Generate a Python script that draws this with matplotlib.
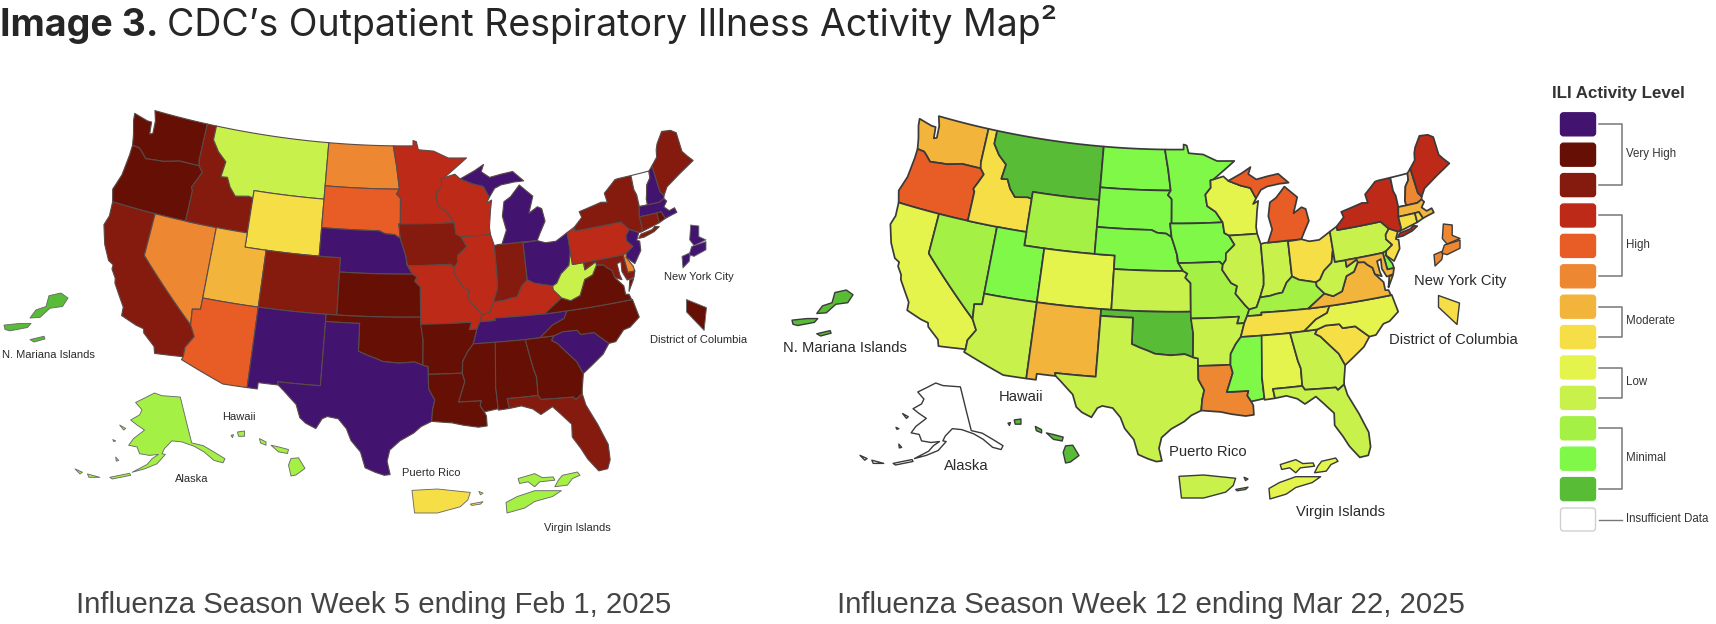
import numpy as np
import matplotlib
matplotlib.use("Agg")
import matplotlib.pyplot as plt
from matplotlib.collections import PolyCollection
from matplotlib.patches import FancyBboxPatch

W, H = 1716, 624

# ---------- data ----------
level_colors = ['#42136f', '#660f05', '#851a0e', '#bd2a17', '#e85c25', '#ee8731', '#f3b43b',
                '#f6df46', '#e5f44c', '#c8f24b', '#a4f045', '#80f848', '#58bc36', '#ffffff']
state_names = ['WA','OR','CA','NV','ID','MT','WY','UT','AZ','CO','NM','ND','SD','NE','KS','OK','TX',
               'MN','IA','MO','AR','LA','WI','IL','IN','MI','OH','KY','TN','MS','AL','GA','FL','SC',
               'NC','VA','WV','PA','NY','VT','NH','ME','MA','CT','RI','NJ','DE','MD']
week5_levels  = [1,1,2,5,2,9,7,6,4,2,0,5,4,0,1,1,0,
                 3,2,3,1,1,3,3,2,0,0,3,0,1,1,1,2,0,
                 1,1,9,3,2,13,0,2,0,2,1,0,5,2]
week12_levels = [6,4,8,10,7,12,10,11,9,8,6,11,11,11,9,12,9,
                 11,11,10,9,5,8,9,9,4,7,10,7,11,8,9,9,7,
                 8,6,9,9,3,13,5,3,6,7,7,7,11,6]
inset_names = ['NYC','DC','PR','VI','AK','HI','MP']
week5_inset_levels  = [0,1,7,10,10,10,12]
week12_inset_levels = [5,7,9,8,13,12,12]
panel_titles = ['Influenza Season Week 5 ending Feb 1, 2025', 'Influenza Season Week 12 ending Mar 22, 2025']
legend_groups = [('Very High',0,2),('High',3,5),('Moderate',6,7),('Low',8,9),('Minimal',10,12),('Insufficient Data',13,13)]

# state outlines as lon/lat
S = {
'WA':[[(-124.7,48.4),(-123.2,48.15),(-122.75,48.15),(-122.6,47.3),(-122.3,47.4),(-122.4,48.3),(-122.75,49),(-117.03,49),(-117.04,46.42),(-116.92,45.99),(-118.98,46),(-119.3,45.93),(-120.5,45.7),(-121.2,45.65),(-122.3,45.55),(-122.8,45.9),(-123.2,46.15),(-123.95,46.2),(-124.1,46.7),(-124.2,47),(-124.6,47.9)]],
'OR':[[(-123.95,46.2),(-123.2,46.15),(-122.8,45.9),(-122.3,45.55),(-121.2,45.65),(-120.5,45.7),(-119.3,45.93),(-118.98,46),(-116.92,45.99),(-116.46,45.6),(-116.85,44.95),(-117.2,44.4),(-117.03,44.2),(-117.03,42),(-124.2,42),(-124.55,42.85),(-124.1,44),(-123.95,45.5)]],
'CA':[[(-124.2,42),(-120,42),(-120,39),(-114.63,35),(-114.13,34.25),(-114.72,33.4),(-114.72,32.72),(-117.12,32.53),(-117.3,33),(-118.4,33.75),(-118.5,34.03),(-119.2,34.15),(-120.6,34.55),(-120.65,35.15),(-121.9,36.6),(-122,36.95),(-122.5,37.5),(-122.5,37.8),(-123,38),(-123.75,39),(-124.35,40.3),(-124.1,41)]],
'NV':[[(-120,42),(-114.04,42),(-114.04,36.2),(-114.75,36.1),(-114.63,35),(-120,39)]],
'ID':[[(-117.03,42),(-111.05,42),(-111.05,44.48),(-111.5,44.55),(-112.8,44.4),(-113.45,44.95),(-113.9,45.6),(-114.55,45.55),(-114.35,46.65),(-115.3,47.25),(-116.05,48),(-116.05,49),(-117.03,49),(-117.04,46.42),(-116.92,45.99),(-116.46,45.6),(-116.85,44.95),(-117.2,44.4),(-117.03,44.2)]],
'MT':[[(-116.05,49),(-104.05,49),(-104.05,45),(-111.05,45),(-111.05,44.48),(-111.5,44.55),(-112.8,44.4),(-113.45,44.95),(-113.9,45.6),(-114.55,45.55),(-114.35,46.65),(-115.3,47.25),(-116.05,48)]],
'WY':[[(-111.05,45),(-104.05,45),(-104.05,41),(-111.05,41)]],
'UT':[[(-114.04,42),(-111.05,42),(-111.05,41),(-109.05,41),(-109.05,37),(-114.04,37)]],
'CO':[[(-109.05,41),(-102.05,41),(-102.05,37),(-109.05,37)]],
'AZ':[[(-114.63,35),(-114.75,36.1),(-114.04,36.2),(-114.04,37),(-109.05,37),(-109.05,31.33),(-111.07,31.33),(-114.81,32.5),(-114.72,32.72),(-114.72,33.4),(-114.13,34.25)]],
'NM':[[(-109.05,37),(-103,37),(-103.04,32),(-106.62,32),(-106.53,31.78),(-108.2,31.78),(-108.2,31.33),(-109.05,31.33)]],
'ND':[[(-104.05,49),(-97.23,49),(-96.85,47.5),(-96.56,45.94),(-104.05,45.94)]],
'SD':[[(-104.05,45.94),(-96.56,45.94),(-96.85,45.6),(-96.45,45.3),(-96.45,43.5),(-96.6,43.5),(-96.45,42.49),(-97,42.75),(-97.9,42.8),(-98.5,43),(-104.05,43)]],
'NE':[[(-104.05,43),(-98.5,43),(-97.9,42.8),(-97,42.75),(-96.45,42.49),(-96.1,41.7),(-95.9,41.2),(-95.85,40.7),(-95.31,40),(-102.05,40),(-102.05,41),(-104.05,41)]],
'KS':[[(-102.05,40),(-95.31,40),(-94.9,39.8),(-95.1,39.5),(-94.6,39.1),(-94.62,37),(-102.05,37)]],
'OK':[[(-103,37),(-94.62,37),(-94.43,35.4),(-94.48,33.64),(-95.2,33.88),(-96.5,33.8),(-97.2,33.85),(-97.9,33.9),(-98.5,34.1),(-99.2,34.3),(-100,34.56),(-100,36.5),(-103,36.5)]],
'TX':[[(-106.62,32),(-103.04,32),(-103,36.5),(-100,36.5),(-100,34.56),(-99.2,34.3),(-98.5,34.1),(-97.9,33.9),(-97.2,33.85),(-96.5,33.8),(-95.2,33.88),(-94.48,33.64),(-94.04,33.55),(-94.04,32),(-93.55,31.2),(-93.75,30.5),(-93.85,29.7),(-94.7,29.35),(-95.3,28.9),(-96.4,28.35),(-97.2,27.7),(-97.4,26.9),(-97.15,25.96),(-97.6,25.9),(-98.3,26.1),(-99.1,26.4),(-99.5,27.5),(-100.3,28.3),(-100.7,29.1),(-101.4,29.77),(-102.3,29.88),(-102.7,29.7),(-103.15,28.98),(-104,29.3),(-104.5,29.65),(-104.9,30.55),(-106,31.4),(-106.53,31.78)]],
'MN':[[(-97.23,49),(-95.15,49),(-95.15,49.38),(-94.8,49.3),(-94.6,48.72),(-93,48.6),(-91.5,48.07),(-89.6,48),(-92,46.7),(-92.3,46.65),(-92.3,46.1),(-92.9,45.6),(-92.75,44.75),(-91.9,44.3),(-91.22,43.5),(-96.45,43.5),(-96.45,45.3),(-96.85,45.6),(-96.56,45.94),(-96.85,47.5)]],
'IA':[[(-96.6,43.5),(-91.22,43.5),(-91.1,42.7),(-90.65,42.5),(-90.15,41.8),(-91.05,41.2),(-91.1,40.7),(-91.42,40.38),(-91.73,40.61),(-95.77,40.58),(-95.9,41.2),(-96.1,41.7),(-96.45,42.49)]],
'MO':[[(-95.77,40.58),(-91.73,40.61),(-91.42,40.38),(-91.5,40),(-90.7,39),(-90.15,38.75),(-90.35,38.2),(-89.5,37.3),(-89.15,36.98),(-89.4,36.5),(-89.7,36),(-90.37,36),(-90.15,36.5),(-94.62,36.5),(-94.62,37),(-94.6,39.1),(-95.1,39.5),(-94.9,39.8),(-95.31,40)]],
'AR':[[(-94.62,36.5),(-90.15,36.5),(-90.37,36),(-89.7,36),(-90.1,35),(-90.6,34.5),(-91.1,33.8),(-91.17,33),(-94.04,33),(-94.04,33.55),(-94.48,33.64),(-94.43,35.4)]],
'LA':[[(-94.04,33),(-91.17,33),(-91,32.4),(-91.6,31),(-89.73,31),(-89.85,30.65),(-89.55,30.2),(-89.4,29.9),(-89.4,29.2),(-90.1,29.15),(-91.3,29.35),(-92.2,29.55),(-93.85,29.7),(-93.75,30.5),(-93.55,31.2),(-94.04,32)]],
'WI':[[(-92,46.7),(-90.9,46.9),(-90.4,46.55),(-89.1,46.13),(-88.1,45.9),(-87.6,45.1),(-87.95,44.7),(-87.4,44.9),(-87.6,44.2),(-87.85,43),(-87.8,42.49),(-90.65,42.5),(-91.1,42.7),(-91.22,43.5),(-91.9,44.3),(-92.75,44.75),(-92.9,45.6),(-92.3,46.1),(-92.3,46.65)]],
'IL':[[(-90.65,42.5),(-87.8,42.49),(-87.53,41.7),(-87.53,39.35),(-87.6,38.7),(-88.05,37.8),(-88.45,37.1),(-89.15,36.98),(-89.5,37.3),(-90.35,38.2),(-90.15,38.75),(-90.7,39),(-91.5,40),(-91.42,40.38),(-91.1,40.7),(-91.05,41.2),(-90.15,41.8)]],
'IN':[[(-87.53,41.7),(-87.2,41.76),(-84.8,41.76),(-84.82,39.1),(-85.4,38.7),(-85.9,38),(-86.5,37.95),(-87.1,37.85),(-88.05,37.8),(-87.6,38.7),(-87.53,39.35)]],
'MI':[[(-86.8,41.76),(-84.8,41.76),(-83.45,41.73),(-83.1,42.2),(-82.45,43),(-82.6,43.9),(-83,44.07),(-83.9,43.7),(-83.3,44.85),(-84.5,45.75),(-85.5,45),(-86.2,44.7),(-86.5,43.7),(-86.25,42.7)],
      [(-90.4,46.55),(-89.1,46.13),(-88.1,45.9),(-87.6,45.1),(-87,45.7),(-86.3,45.9),(-85,46),(-84,46),(-84.6,46.45),(-85,46.75),(-86.2,46.65),(-87.4,46.5),(-88.2,46.95),(-87.9,47.45),(-88.9,47.05),(-89.8,46.75)]],
'OH':[[(-84.8,41.7),(-83.45,41.73),(-82.7,41.5),(-81.7,41.5),(-80.52,41.98),(-80.52,40.64),(-80.85,39.7),(-81.7,39.2),(-82.2,38.6),(-82.6,38.45),(-83.3,38.6),(-84.2,38.8),(-84.82,39.1)]],
'KY':[[(-89.15,36.98),(-89.4,36.5),(-88.05,36.5),(-88.05,36.68),(-83.68,36.6),(-81.97,37.54),(-82.6,38.17),(-82.6,38.45),(-83.3,38.6),(-84.2,38.8),(-84.82,39.1),(-85.4,38.7),(-85.9,38),(-86.5,37.95),(-87.1,37.85),(-88.05,37.8),(-88.45,37.1)]],
'TN':[[(-90.1,35),(-89.7,36),(-89.4,36.5),(-88.05,36.5),(-88.05,36.68),(-83.68,36.6),(-81.68,36.59),(-82,36.1),(-83.1,35.75),(-84.3,35),(-85.6,34.98)]],
'MS':[[(-90.1,35),(-88.2,35),(-88.1,34.9),(-88.47,31.9),(-88.4,30.35),(-89.55,30.2),(-89.85,30.65),(-89.73,31),(-91.6,31),(-91,32.4),(-91.17,33),(-91.1,33.8),(-90.6,34.5)]],
'AL':[[(-88.2,35),(-85.6,34.98),(-85.18,32.87),(-85,32.3),(-85.05,31),(-87.6,31),(-87.5,30.3),(-88.4,30.25),(-88.47,31.9)]],
'GA':[[(-85.6,34.98),(-83.1,35),(-83.35,34.7),(-82.9,34.45),(-81.5,33),(-81.1,32.1),(-81.4,31),(-81.45,30.7),(-82.05,30.36),(-82.2,30.57),(-84.86,30.7),(-85.05,31),(-85,32.3),(-85.18,32.87)]],
'FL':[[(-87.6,31),(-85.05,31),(-84.86,30.7),(-82.2,30.57),(-82.05,30.36),(-81.45,30.7),(-81.3,29.9),(-80.6,28.4),(-80.05,26.9),(-80.1,25.8),(-80.4,25.2),(-81.1,25.15),(-81.8,26.1),(-82.2,26.9),(-82.75,27.8),(-82.65,28.7),(-83.4,29.5),(-84,30.1),(-85,29.65),(-85.6,30.1),(-86.5,30.4),(-87.5,30.3)]],
'SC':[[(-83.1,35),(-82.3,35.2),(-81.05,35.15),(-80.8,34.82),(-79.65,34.8),(-78.55,33.87),(-79.2,33.2),(-80.4,32.5),(-81.1,32.1),(-81.5,33),(-82.9,34.45),(-83.35,34.7)]],
'NC':[[(-84.3,35),(-83.1,35),(-82.3,35.2),(-81.05,35.15),(-80.8,34.82),(-79.65,34.8),(-78.55,33.87),(-77.95,33.9),(-77.1,34.6),(-76.5,34.7),(-75.55,35.25),(-75.8,36.55),(-81.68,36.59),(-82,36.1),(-83.1,35.75)]],
'VA':[[(-83.68,36.6),(-75.87,36.55),(-76,36.95),(-76.3,37),(-76.3,37.6),(-76.95,38.3),(-77.05,38.8),(-77.5,39.1),(-77.72,39.32),(-78.35,39.4),(-78.87,38.77),(-79.65,38.55),(-80.3,37.5),(-81.2,37.25),(-81.97,37.54)],
      [(-75.95,37.15),(-75.3,37.95),(-75.65,37.95)]],
'WV':[[(-82.6,38.17),(-81.97,37.54),(-81.2,37.25),(-80.3,37.5),(-79.65,38.55),(-78.87,38.77),(-78.35,39.4),(-77.72,39.32),(-78.4,39.62),(-79.48,39.21),(-79.48,39.72),(-80.52,39.72),(-80.52,40.64),(-80.85,39.7),(-81.7,39.2),(-82.2,38.6),(-82.6,38.45)]],
'PA':[[(-80.52,41.98),(-79.76,42.27),(-79.76,42),(-75.35,42),(-74.7,41.36),(-75.13,40.98),(-75.2,40.65),(-74.72,40.15),(-75.42,39.8),(-75.79,39.72),(-80.52,39.72)]],
'NY':[[(-79.76,42.27),(-78.9,42.85),(-79.05,43.27),(-76.8,43.63),(-76.2,43.55),(-76.3,44.2),(-75,44.97),(-74.7,45),(-73.35,45),(-73.4,44),(-73.25,43.6),(-73.27,42.75),(-73.5,42.05),(-73.49,41.2),(-73.65,41),(-73.9,41),(-74.7,41.36),(-75.35,42),(-79.76,42)],
      [(-74.03,40.6),(-73.75,40.85),(-72.6,40.98),(-72.3,41.15),(-71.9,41.05),(-72.5,40.8),(-73.5,40.6)]],
'VT':[[(-73.35,45),(-71.5,45),(-71.6,44.5),(-72.05,44.1),(-72.45,43.1),(-72.46,42.73),(-73.27,42.75),(-73.25,43.6),(-73.4,44)]],
'NH':[[(-71.5,45),(-71.08,45.3),(-70.98,43.4),(-70.7,43.07),(-70.8,42.87),(-71.3,42.7),(-72.46,42.73),(-72.45,43.1),(-72.05,44.1),(-71.6,44.5)]],
'ME':[[(-71.08,45.3),(-70.4,45.8),(-70.25,46.3),(-70,46.7),(-69.2,47.45),(-68.3,47.35),(-67.8,47.07),(-67.8,45.7),(-67.45,45.3),(-67,44.85),(-68.5,44.3),(-69,44.1),(-70.2,43.6),(-70.7,43.07),(-70.98,43.4)]],
'MA':[[(-73.5,42.05),(-73.27,42.75),(-71.3,42.7),(-70.8,42.87),(-70.6,42.65),(-71,42.3),(-70.6,41.95),(-70.05,42.05),(-69.95,41.7),(-70.6,41.6),(-71.15,41.5),(-71.38,42.02),(-71.8,42.02)]],
'CT':[[(-73.5,42.05),(-71.8,42.02),(-71.8,41.32),(-73.65,41),(-73.49,41.2)]],
'RI':[[(-71.8,42.02),(-71.38,42.02),(-71.15,41.5),(-71.8,41.32)]],
'NJ':[[(-74.7,41.36),(-73.9,41),(-74.25,40.5),(-74,40.4),(-74.1,39.75),(-74.9,38.95),(-75.55,39.5),(-75.42,39.8),(-74.72,40.15),(-75.2,40.65),(-75.13,40.98)]],
'DE':[[(-75.79,39.72),(-75.42,39.8),(-75.55,39.5),(-75.1,38.8),(-75.05,38.45),(-75.7,38.46)]],
'MD':[[(-79.48,39.72),(-75.79,39.72),(-75.7,38.46),(-75.05,38.45),(-75.25,38.03),(-75.9,37.95),(-76.2,38.6),(-76.1,39.3),(-76.5,39.2),(-76.45,38.4),(-76.35,38.05),(-76.95,38.3),(-77.05,38.8),(-77.5,39.1),(-77.72,39.32),(-78.35,39.4),(-78.4,39.62),(-79.48,39.21)]],
}
# inset outlines in their own local units (y grows downward)
INSETS = {
'AK':[[(272,968),(290,955),(310,940),(325,948),(362,952),(375,1030),(385,1088),(408,1096),(430,1115),(452,1135),(448,1147),(430,1140),(410,1115),(390,1098),(365,1085),(345,1082),(330,1105),(325,1120),(332,1122),(315,1150),(290,1165),(265,1175),(295,1152),(305,1135),(318,1122),(300,1125),(280,1120),(275,1100),(258,1095),(268,1075),(290,1050),(275,1035),(262,1020),(280,1005),(285,990)],
      [(150,1165),(165,1175),(160,1180)],[(175,1180),(200,1190),(178,1190)],[(220,1190),(260,1178),(262,1184),(225,1195)],
      [(240,1035),(252,1045),(248,1050)],[(232,1130),(238,1140),(233,1142)],[(226,1078),(232,1082),(228,1084)]],
'HI':[[(585,1135),(600,1133),(613,1165),(595,1185),(585,1188),(580,1155)],[(545,1095),(560,1100),(580,1108),(578,1120),(560,1115)],
      [(522,1075),(535,1085),(535,1095),(524,1088)],[(478,1055),(492,1052),(492,1068),(480,1068)],[(465,1065),(470,1063),(468,1072)]],
'MP':[[(98,648),(122,640),(136,655),(125,680),(100,685),(80,712),(60,714),(72,690),(92,680)],[(8,735),(40,730),(62,730),(55,742),(20,752),(10,748)],[(60,778),(88,768),(90,776),(68,785)]],
'PR':[[(830,1232),(880,1228),(945,1238),(940,1260),(925,1280),(880,1298),(835,1298)],[(945,1272),(970,1265),(965,1272),(948,1276)],[(962,1235),(970,1240),(965,1245)]],
'VI':[[(1018,1268),(1040,1250),(1075,1232),(1128,1232),(1110,1250),(1075,1265),(1055,1285),(1020,1300)],
      [(1042,1195),(1075,1180),(1090,1192),(1112,1190),(1115,1200),(1085,1205),(1075,1220),(1062,1205),(1045,1210)],
      [(1130,1185),(1160,1175),(1165,1185),(1150,1195),(1140,1215),(1115,1220),(1122,1200)]],
'NYC':[[(1370,530),(1388,518),(1385,545),(1372,565)],[(1390,500),(1420,485),(1420,510),(1395,530),(1385,525)],[(1388,435),(1405,438),(1405,470),(1420,480),(1395,497),(1386,480)]],
'DC':[[(1378,658),(1420,682),(1415,750),(1378,695)]],
}

# ---------- layout (pixels) ----------
def albers(lon, lat, lon0=-96.0, lat0=37.5, p1=29.5, p2=45.5):
    lon, lat = np.radians(lon), np.radians(lat)
    lon0, lat0, p1, p2 = map(np.radians, (lon0, lat0, p1, p2))
    n = (np.sin(p1) + np.sin(p2)) / 2
    C = np.cos(p1) ** 2 + 2 * n * np.sin(p1)
    rho = np.sqrt(C - 2 * n * np.sin(lat)) / n
    rho0 = np.sqrt(C - 2 * n * np.sin(lat0)) / n
    th = n * (lon - lon0)
    return rho * np.sin(th), rho0 - rho * np.cos(th)

def project(poly):
    pts = np.array(poly + poly[:1], float)
    out = []
    for a, b in zip(pts[:-1], pts[1:]):
        k = max(1, int(np.ceil(np.abs(b - a).max() / 0.75)))
        for t in np.arange(k) / k:
            out.append(a + (b - a) * t)
    out = np.array(out)
    x, y = albers(out[:, 0], out[:, 1])
    return np.column_stack([x, y])

fig = plt.figure(figsize=(W / 100, H / 100), dpi=100, facecolor='white')

def px_axes(left, top, right, bottom):
    ax = fig.add_axes([left / W, 1 - bottom / H, (right - left) / W, (bottom - top) / H])
    ax.axis('off')
    ax.patch.set_alpha(0)
    return ax

def add_polys(ax, polys, colors, ec, lw):
    ax.add_collection(PolyCollection(polys, facecolors=colors, edgecolors=ec, linewidths=lw, joinstyle='round'))

inset_boxes = [
    {'AK':(75,393,225,479),'HI':(231,431,305,476),'MP':(4,293,68,342),'PR':(412,489,483,513),
     'VI':(506,472,580,513),'NYC':(682,225,706,268),'DC':(686,299,706,330)},
    {'AK':(860,383,1003,465),'HI':(1008,419,1079,463),'MP':(792,290,853,336),'PR':(1179,475,1248,498),
     'VI':(1269,458,1338,499),'NYC':(1434,224,1460,266),'DC':(1438,295,1459,324)},
]
map_frames = [(405, 310, 817, 815), (1176, 305, 775, 772)]
edge_styles = [('#5a4a48', 0.8), ('#3a3a3a', 1.25)]
label_pos = [
    {'N. Mariana Islands':(48,355),'Hawaii':(239,417),'Alaska':(192,479),'Puerto Rico':(431,473),
     'Virgin Islands':(577,528),'New York City':(699,277),'District of Columbia':(699,340)},
    {'N. Mariana Islands':(845,348),'Hawaii':(1021,397),'Alaska':(966,466),'Puerto Rico':(1208,452),
     'Virgin Islands':(1341,512),'New York City':(1460,281),'District of Columbia':(1453,340)},
]
label_size = [8.0, 10.6]
title_centers = [(374, 605), (1151, 605)]
panel_levels = [(week5_levels, week5_inset_levels), (week12_levels, week12_inset_levels)]
map_boxes = [(0, 80, 780, 560), (780, 80, 1540, 560)]

overlay = px_axes(0, 0, W, H)
overlay.set_xlim(0, W)
overlay.set_ylim(H, 0)

for i in range(2):
    x0, y0, sx, sy = map_frames[i]
    ec, lw = edge_styles[i]
    l, t, r, b_ = map_boxes[i]
    ax = px_axes(l, t, r, b_)
    ax.set_xlim((l - x0) / sx, (r - x0) / sx)
    ax.set_ylim((y0 - b_) / sy, (y0 - t) / sy)
    polys, cols = [], []
    for name, lev in zip(state_names, panel_levels[i][0]):
        for part in S[name]:
            polys.append(project(part))
            cols.append(level_colors[lev])
    add_polys(ax, polys, cols, ec, lw)
    for name, lev in zip(inset_names, panel_levels[i][1]):
        iax = px_axes(*inset_boxes[i][name])
        allp = np.vstack([np.array(p) for p in INSETS[name]])
        iax.set_xlim(allp[:, 0].min(), allp[:, 0].max())
        iax.set_ylim(allp[:, 1].max(), allp[:, 1].min())
        add_polys(iax, [np.array(p, float) for p in INSETS[name]], level_colors[lev], ec if i else '#6a6a6a', lw * 0.8)
        for c in iax.collections:
            c.set_clip_on(False)
    for txt, (x, y) in label_pos[i].items():
        overlay.text(x, y, txt, ha='center', va='center', fontsize=label_size[i],
                     family='Liberation Sans', color='#2a2a2a', zorder=10)
    overlay.text(title_centers[i][0], title_centers[i][1], panel_titles[i], ha='center', va='center',
                 fontsize=21.2, family='Liberation Sans', color='#444444', zorder=10)

# heading
overlay.text(0, 36, 'Image 3.', fontsize=27, fontweight='bold', family='Inter', color='#262626', va='baseline')
overlay.text(167, 36, 'CDC\u2019s Outpatient Respiratory Illness Activity Map\u00b2', fontsize=27, family='Inter',
             color='#262626', va='baseline')

# legend: y = level index, 1 unit = 30.4 px
lax = px_axes(1516, 70, 1716, 550)
u = 30.4
lax.set_xlim(0, 200 / u)
lax.set_ylim((480 - 54.3) / u, -54.3 / u)
sw_l, sw_w, sw_h = 44.5 / u, 35 / u, 23 / u
for k, col in enumerate(level_colors):
    lax.add_patch(FancyBboxPatch((sw_l + 0.06, k - sw_h / 2 + 0.06), sw_w - 0.12, sw_h - 0.12,
                                 boxstyle='round,pad=0.06,rounding_size=0.1', fc=col,
                                 ec='#d0d0d0' if k == 13 else col, lw=1))
bx0, bx1, tx = 83 / u, 106 / u, 110 / u
for name, a, b in legend_groups:
    if a == b:
        lax.plot([bx0, bx1], [a, a], color='#777777', lw=1)
    else:
        lax.plot([bx0, bx1, bx1, bx0], [a, a, b, b], color='#777777', lw=1.1)
    lax.text(tx, (a + b) / 2 - 0.03, name, fontsize=8.3, family='Liberation Sans', color='#333333', va='center', ha='left')
lax.text(102 / u, -1, 'ILI Activity Level', fontsize=12.2, fontweight='bold', family='Liberation Sans',
         color='#333333', ha='center', va='center')

fig.savefig('out.png', dpi=100, facecolor='white')
